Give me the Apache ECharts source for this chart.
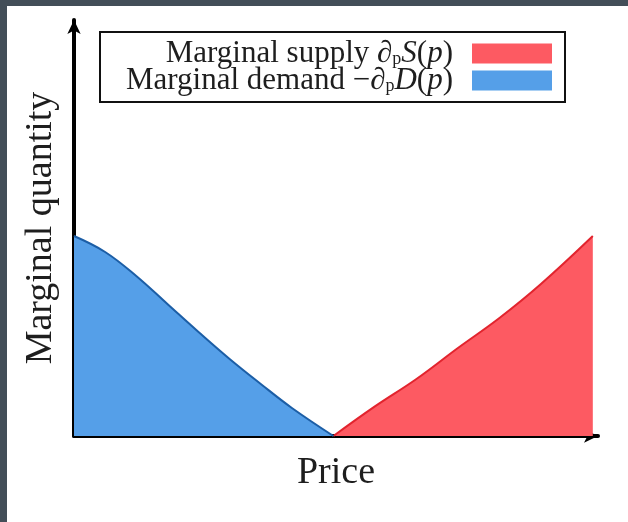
<!DOCTYPE html>
<html>
<head>
<meta charset="utf-8">
<script src="https://cdn.jsdelivr.net/npm/echarts@6/dist/echarts.min.js"></script>
<style>
  html, body { margin: 0; padding: 0; background: #434e58; width: 628px; height: 522px; overflow: hidden; }
  #chart { position: absolute; left: 7px; top: 6px; width: 621px; height: 516px; background: #ffffff; }
</style>
</head>
<body>
<div id="chart"></div>
<script>
// Marginal demand: quantity falls from its peak at price 0 to zero at the crossing price
const demandPrice = [0, 6, 12, 18, 24, 30, 36, 42, 50];
const demandQty   = [1.0, 0.92, 0.80, 0.66, 0.52, 0.385, 0.26, 0.14, 0.0];

// Marginal supply: zero at the crossing price, rising to its peak at the right end
const supplyPrice = [50, 58, 66, 74, 82, 90, 100];
const supplyQty   = [0.0, 0.148, 0.285, 0.44, 0.59, 0.76, 1.0];

const seriesNames = ['Marginal supply', 'Marginal demand'];
const axisNames = { x: 'Price', y: 'Marginal quantity' };

const priceMax = 101;
const qtyMax = 2.08;

const serif = 'Liberation Serif';
const ink = '#1e1e1e';

const zip = (xs, ys) => xs.map((x, i) => [x, ys[i]]);

// Legend labels with the derivative notation typeset as rich text
const legendRich = {
  t:   { fontFamily: serif, fontSize: 31, color: ink, lineHeight: 20 },
  i:   { fontFamily: serif, fontSize: 31, fontStyle: 'italic', color: ink, lineHeight: 20 },
  sub: { fontFamily: serif, fontSize: 18, color: ink, lineHeight: 8, padding: [12, 0, 0, 0] }
};
const legendLabel = {
  'Marginal supply': '{t|Marginal supply }{i|∂}{sub|p}{i|S}{t|(}{i|p}{t|)}',
  'Marginal demand': '{t|Marginal demand −}{i|∂}{sub|p}{i|D}{t|(}{i|p}{t|)}'
};

const chart = echarts.init(document.getElementById('chart'), null, { renderer: 'canvas' });

chart.setOption({
  animation: false,
  backgroundColor: '#ffffff',
  grid: { left: 67, right: 30, top: 14, bottom: 86 },
  legend: {
    data: seriesNames,
    orient: 'vertical',
    align: 'right',
    left: 93,
    top: 26,
    padding: [6, 13, 6, 18],
    itemGap: -4,
    itemWidth: 80,
    itemHeight: 20,
    icon: 'rect',
    borderColor: '#111111',
    borderWidth: 2,
    backgroundColor: '#ffffff',
    itemStyle: { borderWidth: 0 },
    formatter: name => legendLabel[name],
    textStyle: {
      fontFamily: serif,
      fontSize: 31,
      color: ink,
      width: 335,
      lineHeight: 20,
      padding: [0, 14, 0, 0],
      rich: legendRich
    }
  },
  xAxis: {
    type: 'value',
    min: 0,
    max: priceMax,
    name: axisNames.x,
    nameLocation: 'middle',
    nameGap: 18,
    nameTextStyle: { fontFamily: serif, fontSize: 38, color: ink },
    axisLine: {
      show: true,
      onZero: false,
      symbol: ['none', 'arrow'],
      symbolSize: [10, 14],
      lineStyle: { color: '#000000', width: 4 }
    },
    axisTick: { show: false },
    axisLabel: { show: false },
    splitLine: { show: false }
  },
  yAxis: {
    type: 'value',
    min: 0,
    max: qtyMax,
    name: axisNames.y,
    nameLocation: 'middle',
    nameGap: 14,
    nameTextStyle: { fontFamily: serif, fontSize: 38, color: ink },
    axisLine: {
      show: true,
      onZero: false,
      symbol: ['none', 'arrow'],
      symbolSize: [10, 14],
      lineStyle: { color: '#000000', width: 4 }
    },
    axisTick: { show: false },
    axisLabel: { show: false },
    splitLine: { show: false }
  },
  series: [
    {
      name: seriesNames[0],
      type: 'line',
      data: zip(supplyPrice, supplyQty),
      smooth: 0.4,
      showSymbol: false,
      symbol: 'none',
      color: '#fd5a62',
      lineStyle: { color: '#e2242e', width: 2 },
      areaStyle: { color: '#fd5a62', opacity: 1 },
      z: 1
    },
    {
      name: seriesNames[1],
      type: 'line',
      data: zip(demandPrice, demandQty),
      smooth: 0.4,
      showSymbol: false,
      symbol: 'none',
      color: '#559fe8',
      lineStyle: { color: '#1c5ea6', width: 2 },
      areaStyle: { color: '#559fe8', opacity: 1 },
      z: 1
    }
  ]
});
</script>
</body>
</html>
